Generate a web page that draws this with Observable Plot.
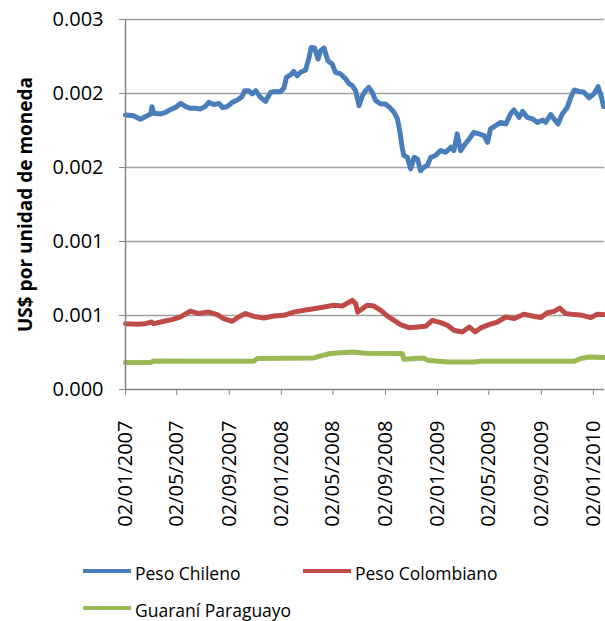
<!DOCTYPE html>
<html><head><meta charset="utf-8">
<script src="https://cdn.jsdelivr.net/npm/d3@7"></script>
<script src="https://cdn.jsdelivr.net/npm/@observablehq/plot@0.6"></script>
<style>
body{margin:0;background:#fff;font-family:"Open Sans",sans-serif;}
#wrap{position:relative;width:605px;height:621px;overflow:hidden;}
#chart{position:absolute;left:0;top:0;}
.leg{position:absolute;display:flex;align-items:center;font-size:17.5px;line-height:20px;color:#000;white-space:nowrap;}
.leg .sw{display:inline-block;width:48px;height:4px;margin-right:4px;}
</style></head><body><div id="wrap"><div id="chart"></div></div>
<script>
const seriesNames = ["Peso Chileno", "Peso Colombiano", "Guaraní Paraguayo"];
const seriesColors = ["#4a7ebb", "#be4b48", "#98b954"];

const pesoChileno = [
["2007-01-02",0.001855],["2007-01-21",0.001850],["2007-02-06",0.001826],["2007-02-18",0.001844],
["2007-03-02",0.001862],["2007-03-05",0.001911],["2007-03-09",0.001866],["2007-03-25",0.001862],
["2007-04-06",0.001873],["2007-04-17",0.001891],["2007-04-29",0.001906],["2007-05-11",0.001933],
["2007-05-23",0.001911],["2007-06-03",0.001900],["2007-06-15",0.001900],["2007-06-27",0.001896],
["2007-07-08",0.001913],["2007-07-16",0.001940],["2007-07-28",0.001925],["2007-08-09",0.001933],
["2007-08-17",0.001906],["2007-08-28",0.001911],["2007-09-09",0.001940],["2007-09-21",0.001956],
["2007-10-02",0.001979],["2007-10-08",0.002019],["2007-10-18",0.002019],["2007-10-26",0.001997],
["2007-11-03",0.002019],["2007-11-14",0.001974],["2007-11-26",0.001947],["2007-12-08",0.002008],
["2007-12-19",0.002014],["2007-12-31",0.002012],["2008-01-08",0.002037],["2008-01-14",0.002109],
["2008-01-24",0.002127],["2008-01-31",0.002149],["2008-02-08",0.002120],["2008-02-16",0.002143],
["2008-02-28",0.002159],["2008-03-07",0.002244],["2008-03-12",0.002311],["2008-03-20",0.002307],
["2008-03-28",0.002233],["2008-04-03",0.002289],["2008-04-11",0.002307],["2008-04-20",0.002221],
["2008-04-30",0.002199],["2008-05-08",0.002143],["2008-05-20",0.002132],["2008-06-01",0.002098],
["2008-06-08",0.002068],["2008-06-16",0.002053],["2008-06-24",0.002019],["2008-07-02",0.001918],
["2008-07-10",0.001985],["2008-07-17",0.002019],["2008-07-25",0.002041],["2008-08-02",0.002008],
["2008-08-10",0.001952],["2008-08-22",0.001929],["2008-09-02",0.001929],["2008-09-10",0.001911],
["2008-09-22",0.001873],["2008-09-30",0.001828],["2008-10-06",0.001738],["2008-10-11",0.001637],
["2008-10-15",0.001581],["2008-10-23",0.001569],["2008-10-31",0.001491],["2008-11-08",0.001569],
["2008-11-16",0.001558],["2008-11-23",0.001479],["2008-12-01",0.001502],["2008-12-09",0.001513],
["2008-12-17",0.001569],["2008-12-28",0.001581],["2009-01-09",0.001614],["2009-01-21",0.001603],
["2009-02-02",0.001637],["2009-02-09",0.001614],["2009-02-17",0.001727],["2009-02-25",0.001614],
["2009-03-05",0.001648],["2009-03-17",0.001693],["2009-03-28",0.001738],["2009-04-09",0.001727],
["2009-04-21",0.001716],["2009-04-29",0.001670],["2009-05-06",0.001761],["2009-05-18",0.001783],
["2009-05-30",0.001805],["2009-06-11",0.001794],["2009-06-22",0.001862],["2009-06-30",0.001889],
["2009-07-12",0.001839],["2009-07-20",0.001879],["2009-07-31",0.001839],["2009-08-12",0.001828],
["2009-08-24",0.001805],["2009-09-05",0.001821],["2009-09-12",0.001805],["2009-09-24",0.001857],
["2009-10-02",0.001828],["2009-10-11",0.001794],["2009-10-21",0.001862],["2009-11-02",0.001906],
["2009-11-10",0.001974],["2009-11-18",0.002024],["2009-11-29",0.002014],["2009-12-11",0.002008],
["2009-12-23",0.001970],["2010-01-03",0.001997],["2010-01-13",0.002046],["2010-01-21",0.001974],
["2010-01-26",0.001911]
];

const pesoColombiano = [
["2007-01-02",0.000445],["2007-01-29",0.000441],["2007-02-18",0.000445],["2007-03-04",0.000456],
["2007-03-09",0.000445],["2007-04-02",0.000461],["2007-04-21",0.000472],["2007-05-11",0.000490],
["2007-06-03",0.000530],["2007-06-23",0.000513],["2007-07-16",0.000523],["2007-08-05",0.000506],
["2007-08-20",0.000479],["2007-09-09",0.000461],["2007-09-24",0.000490],["2007-10-10",0.000513],
["2007-10-30",0.000494],["2007-11-22",0.000483],["2007-12-16",0.000497],["2008-01-08",0.000501],
["2008-01-31",0.000523],["2008-02-24",0.000535],["2008-03-18",0.000546],["2008-04-11",0.000557],
["2008-05-04",0.000569],["2008-05-24",0.000564],["2008-06-16",0.000602],["2008-06-24",0.000580],
["2008-06-29",0.000523],["2008-07-10",0.000546],["2008-07-21",0.000569],["2008-08-06",0.000564],
["2008-08-22",0.000535],["2008-09-06",0.000497],["2008-09-22",0.000467],["2008-10-07",0.000438],
["2008-10-27",0.000418],["2008-11-16",0.000422],["2008-12-05",0.000427],["2008-12-21",0.000467],
["2009-01-09",0.000452],["2009-01-25",0.000434],["2009-02-09",0.000400],["2009-03-01",0.000389],
["2009-03-17",0.000422],["2009-03-31",0.000389],["2009-04-13",0.000416],["2009-05-02",0.000438],
["2009-05-22",0.000456],["2009-06-11",0.000490],["2009-06-30",0.000479],["2009-07-23",0.000508],
["2009-08-12",0.000497],["2009-09-01",0.000486],["2009-09-16",0.000519],["2009-10-02",0.000528],
["2009-10-15",0.000550],["2009-10-29",0.000513],["2009-11-18",0.000506],["2009-12-07",0.000501],
["2009-12-27",0.000486],["2010-01-11",0.000508],["2010-01-26",0.000506]
];

const guaraniParaguayo = [
["2007-01-02",0.000182],["2007-03-02",0.000182],["2007-03-09",0.000193],["2007-06-27",0.000191],
["2007-10-29",0.000191],["2007-11-07",0.000209],["2008-03-18",0.000213],["2008-04-03",0.000227],
["2008-04-26",0.000243],["2008-05-20",0.000248],["2008-06-20",0.000254],["2008-07-17",0.000245],
["2008-10-11",0.000243],["2008-10-15",0.000204],["2008-11-30",0.000213],["2008-12-09",0.000198],
["2009-01-26",0.000186],["2009-03-30",0.000186],["2009-04-13",0.000191],["2009-11-18",0.000191],
["2009-12-03",0.000209],["2009-12-23",0.000220],["2010-01-26",0.000216]
];

const xTickLabels = ["02/01/2007","02/05/2007","02/09/2007","02/01/2008","02/05/2008",
  "02/09/2008","02/01/2009","02/05/2009","02/09/2009","02/01/2010"];
const yTicks = [0, 0.0005, 0.001, 0.0015, 0.002, 0.0025];
const yTickLabels = ["0.000","0.001","0.001","0.002","0.002","0.003"];
const yTitle = "US$ por unidad de moneda";

const parse = d3.utcParse("%Y-%m-%d");
const parseTick = d3.utcParse("%d/%m/%Y");
const allSeries = [pesoChileno, pesoColombiano, guaraniParaguayo];
const rows = allSeries.flatMap((s, i) => s.map(([d, v]) => ({serie: seriesNames[i], date: parse(d), value: v})));
const xTicks = xTickLabels.map(parseTick);
const xLabelMap = new Map(xTicks.map((t, i) => [+t, xTickLabels[i]]));
const yLabelMap = new Map(yTicks.map((t, i) => [t, yTickLabels[i]]));

const x0 = parse("2007-01-02"), x1 = parse("2010-01-28");

const chart = Plot.plot({
  width: 605, height: 560,
  marginLeft: 125, marginRight: 1, marginTop: 19, marginBottom: 171,
  style: {fontFamily: "Open Sans", background: "white", color: "#000", overflow: "visible"},
  x: {type: "utc", domain: [x0, x1]},
  y: {domain: [0, 0.0025]},
  color: {domain: seriesNames, range: seriesColors},
  marks: [
    Plot.ruleY(yTicks.slice(1), {stroke: "#a0a0a0", strokeWidth: 1.5}),
    Plot.lineY(rows, {x: "date", y: "value", z: "serie", stroke: "serie", strokeWidth: 5,
      strokeLinejoin: "round", strokeLinecap: "round"}),
    Plot.ruleX([x0], {stroke: "#868686", strokeWidth: 1.5}),
    Plot.ruleY([0], {stroke: "#868686", strokeWidth: 1.5}),
    Plot.axisY({ticks: yTicks, tickFormat: d => yLabelMap.get(d), tickSize: 6, tickPadding: 16,
      fontSize: 20, stroke: "#868686", fill: "#000", label: null}),
    Plot.axisX({ticks: xTicks, tickFormat: d => xLabelMap.get(+d), tickRotate: -90, tickSize: 6,
      tickPadding: 25, fontSize: 20, stroke: "#868686", fill: "#000", label: null}),
    Plot.text([yTitle], {frameAnchor: "left", textAnchor: "middle", rotate: -90, dx: -100,
      fontWeight: "bold", fontSize: 19, fill: "#000"})
  ]
});
document.getElementById("chart").appendChild(chart);

const wrap = document.getElementById("wrap");
const legendPos = [[83, 571], [303, 571], [83, 608]];
seriesNames.forEach((name, i) => {
  const d = document.createElement("div");
  d.className = "leg";
  d.style.left = legendPos[i][0] + "px";
  d.style.top = (legendPos[i][1] - 10) + "px";
  d.style.height = "20px";
  const sw = document.createElement("span");
  sw.className = "sw";
  sw.style.background = seriesColors[i];
  const t = document.createElement("span");
  t.textContent = name;
  t.style.position = "relative";
  t.style.top = "2px";
  d.appendChild(sw); d.appendChild(t);
  wrap.appendChild(d);
});
</script></body></html>
